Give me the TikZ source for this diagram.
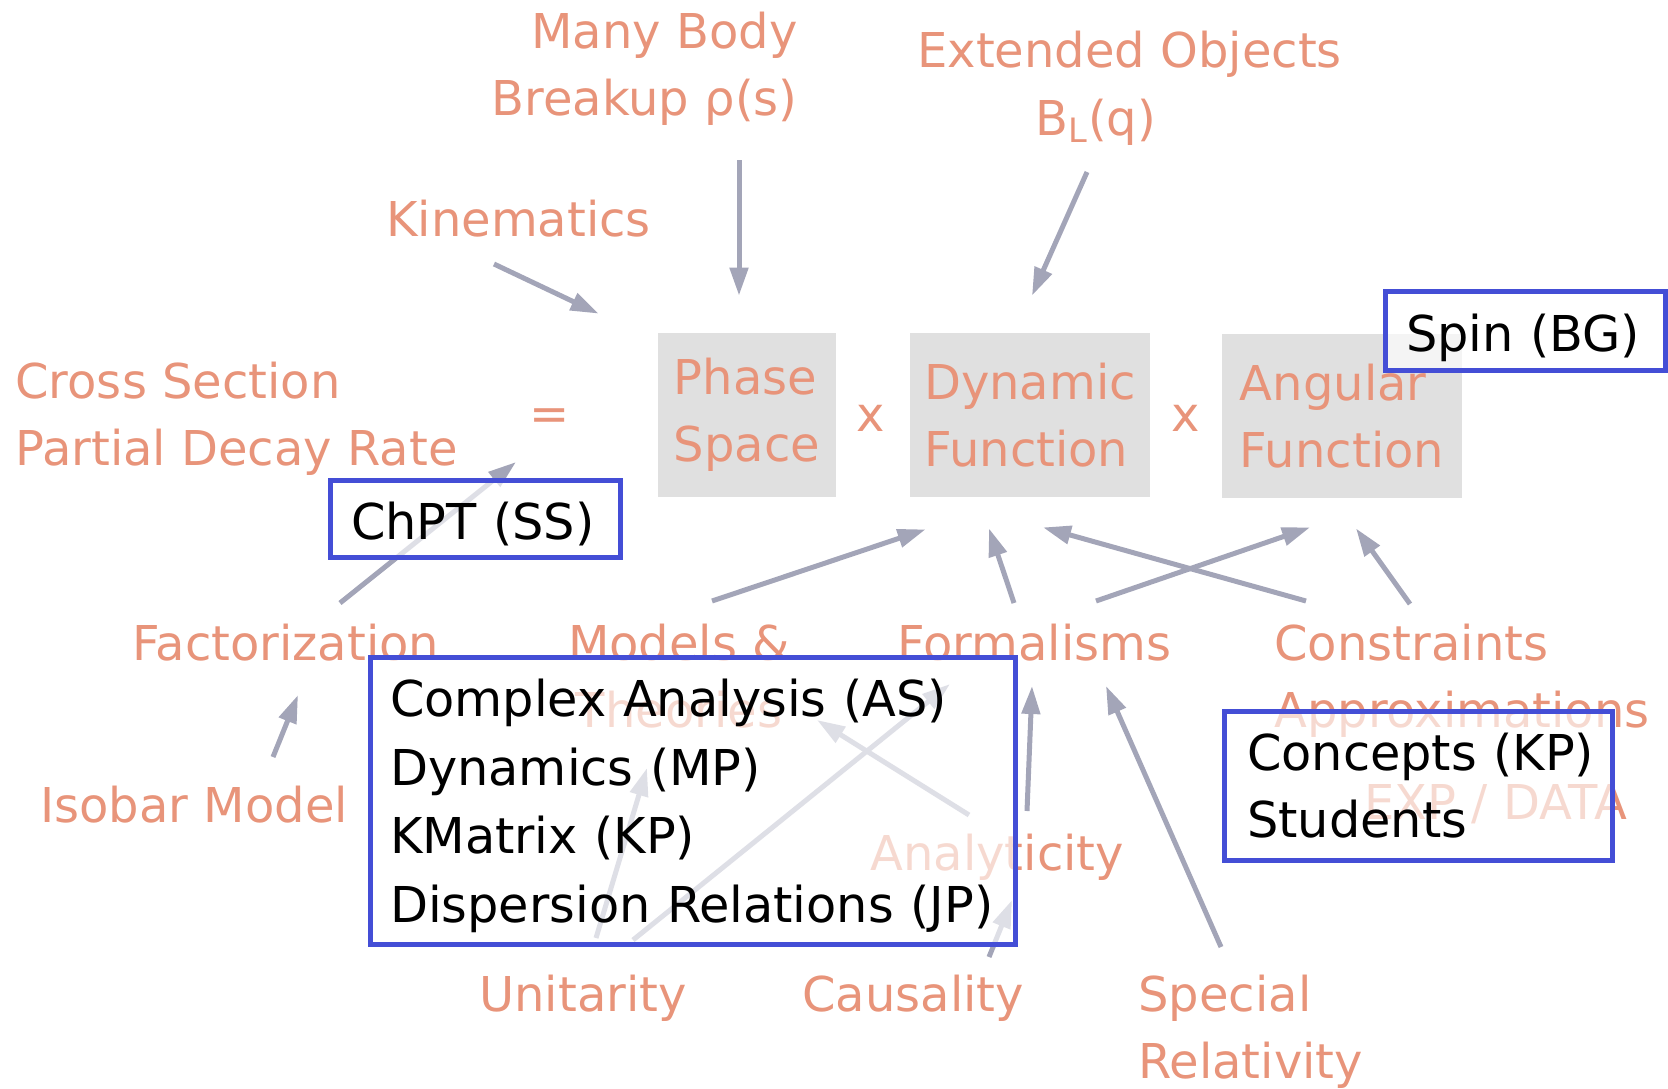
\documentclass[tikz,border=0pt]{standalone}
\usepackage{fontspec}
\setmainfont{DejaVu Sans}
\usetikzlibrary{arrows.meta}
\definecolor{salmon}{RGB}{232,148,122}
\definecolor{arrowgray}{RGB}{163,165,184}
\definecolor{boxgray}{RGB}{224,224,224}
\definecolor{tagblue}{RGB}{68,78,214}
\newcommand{\arw}{-{Triangle[length=14pt,width=9pt]}}
\tikzset{
  lbl/.style={text=salmon, inner sep=0pt},
  termbox/.style={fill=boxgray, text=salmon, align=left, minimum height=82pt},
  tagbox/.style={draw=tagblue, line width=2.5pt, fill=white, fill opacity=0.65,
    text opacity=1, text=black, align=left, font=\fontsize{24.7}{33.5}\selectfont},
  oneline/.style={inner ysep=0pt, text height=25.5pt, text depth=5pt},
  link/.style={draw=arrowgray, line width=2.5pt},
}

\begin{document}
\begin{tikzpicture}[x=0.5pt,y=-0.5pt,font=\fontsize{24}{33.5}\selectfont]
\useasboundingbox (0,0) rectangle (1668,1088);
% rate = phase space x dynamics x angular part
\node[termbox, minimum width=89pt] (phase) at (747,415) {Phase\\Space};
\node[termbox, minimum width=120pt] (dynamic) at (1030,415) {Dynamic\\Function};
\node[termbox, minimum width=120pt] (angular) at (1342,416) {Angular\\Function};
\node[lbl] (eq) at (550,420) {=};
\node[lbl] (times1) at (871,418) {x};
\node[lbl] (times2) at (1186,418) {x};
\node[lbl, align=left, anchor=base west] (cross) at (15,465) {Cross Section\\Partial Decay Rate};
\node[lbl, anchor=base west] (kin) at (386,236) {Kinematics};
\node[lbl, align=right, anchor=base east] (body) at (798,115) {Many Body\\Breakup ρ(s)};
\node[lbl, anchor=base west] (ext) at (917,67) {Extended Objects};
\node[lbl, anchor=base west] (bl) at (1035,135) {B\textsubscript{L}(q)};
% what goes into it
\node[lbl, anchor=base west] (fact) at (132,660) {Factorization};
\node[lbl, align=center, anchor=base] (models) at (679,727) {Models \&\\Theories};
\node[lbl, anchor=base west] (formal) at (897,660) {Formalisms};
\node[lbl, align=left, anchor=base west] (constr) at (1274,727) {Constraints\\Approximations};
\node[lbl, anchor=base west] (expdata) at (1364,819) {EXP / DATA};
\node[lbl, anchor=base west] (isobar) at (40,822) {Isobar Model};
\node[lbl, anchor=base west] (analyt) at (870,870) {Analyticity};
\node[lbl, anchor=base west] (unit) at (479,1011) {Unitarity};
\node[lbl, anchor=base west] (caus) at (802,1011) {Causality};
\node[lbl, align=left, anchor=base west] (special) at (1138,1078) {Special\\Relativity};

\draw[link,\arw] ([shift={(108,28)}]kin.base west) -- ([shift={(-59,-19)}]phase.north west);
\draw[link,\arw] ([shift={(-59,45)}]body.base east) -- ([shift={(-8,-37)}]phase.north);
\draw[link,\arw] ([shift={(52,37)}]bl.base west) -- ([shift={(2,-37)}]dynamic.north);
\draw[link,\arw] ([shift={(33,-126)}]models.base) -- ([shift={(16,32)}]dynamic.south west);
\draw[link,\arw] ([shift={(117,-57)}]formal.base west) -- ([shift={(-41,31)}]dynamic.south);
\draw[link,\arw] ([shift={(32,-126)}]constr.base west) -- ([shift={(13,30)}]dynamic.south);
\draw[link,\arw] ([shift={(199,-59)}]formal.base west) -- ([shift={(-32,29)}]angular.south);
\draw[link,\arw] ([shift={(136,-123)}]constr.base west) -- ([shift={(14,30)}]angular.south);
\draw[link,\arw] ([shift={(233,-65)}]isobar.base west) -- ([shift={(166,35)}]fact.base west);
\draw[link,\arw] ([shift={(208,-57)}]fact.base west) -- ([shift={(501,-3)}]cross.base west);
\draw[link,\arw] ([shift={(117,-73)}]unit.base west) -- ([shift={(-32,41)}]models.base);
\draw[link,\arw] ([shift={(154,-71)}]unit.base west) -- ([shift={(53,24)}]formal.base west);
\draw[link,\arw] ([shift={(99,-55)}]analyt.base west) -- ([shift={(138,-7)}]models.base);
\draw[link,\arw] ([shift={(187,-54)}]caus.base west) -- ([shift={(142,30)}]analyt.base west);
\draw[link,\arw] ([shift={(157,-59)}]analyt.base west) -- ([shift={(135,26)}]formal.base west);
\draw[link,\arw] ([shift={(83,-131)}]special.base west) -- ([shift={(209,26)}]formal.base west);

% who covers what
\node[tagbox, oneline, text width=119pt, inner xsep=10.5pt, minimum height=39.5pt] (spin) at (1525,330.5) {Spin (BG)};
\node[tagbox, oneline, text width=124pt, inner xsep=10.5pt, minimum height=38.5pt] (chpt) at (475,518.5) {ChPT (SS)};
\node[tagbox, text width=302.5pt, inner xsep=10pt, inner ysep=4pt, minimum height=143.5pt,
  font=\fontsize{24.7}{34.3}\selectfont] (cabox) at (692.5,800.5)
  {\rule{0pt}{24pt}Complex Analysis (AS)\\Dynamics (MP)\\KMatrix (KP)\\Dispersion Relations (JP)};
\node[tagbox, text width=171pt, inner xsep=11.5pt, minimum height=74.5pt] (concepts) at (1418,785.5) {\mbox{Concepts (KP)}\\Students};
\end{tikzpicture}
\end{document}
